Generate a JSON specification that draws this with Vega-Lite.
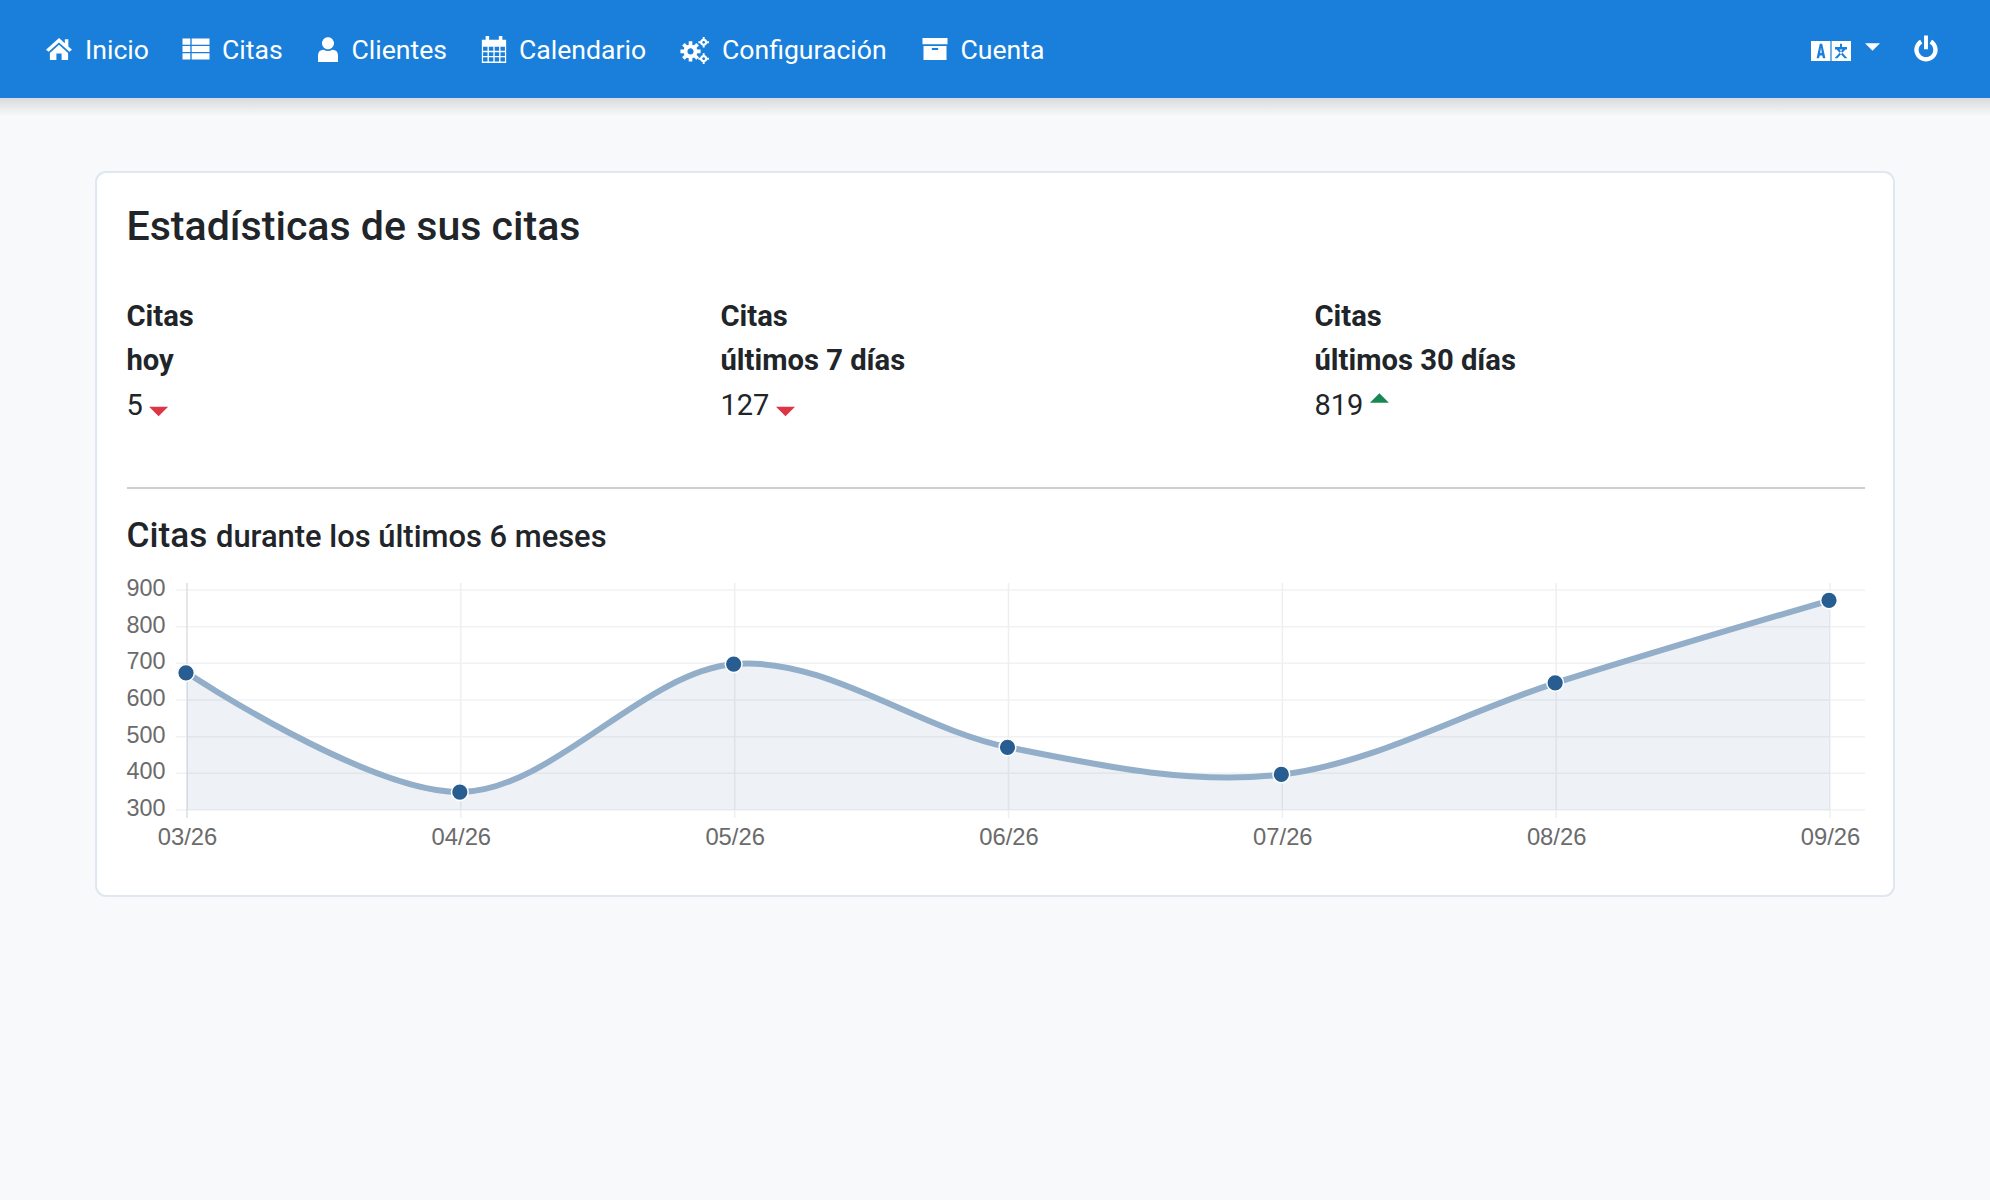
{
  "$schema": "https://vega.github.io/schema/vega-lite/v6.json",
  "width": 1990,
  "height": 1200,
  "padding": 0,
  "autosize": {"type": "fit", "contains": "padding"},
  "background": "#f8f9fb",
  "config": {
    "view": {"stroke": null},
    "text": {"font": "Roboto", "color": "#212529", "align": "left", "baseline": "alphabetic"},
    "axis": {"labelFont": "Liberation Sans", "labelFontSize": 23.4, "labelColor": "#6b6b6b", "title": null, "grid": false, "domain": false, "ticks": false}
  },
  "datasets": {
    "nav": [
      {"order": 0, "label": "Inicio"},
      {"order": 1, "label": "Citas"},
      {"order": 2, "label": "Clientes"},
      {"order": 3, "label": "Calendario"},
      {"order": 4, "label": "Configuración"},
      {"order": 5, "label": "Cuenta"}
    ],
    "navIcons": [
      {"order": 0, "icon": "home"},
      {"order": 1, "icon": "list"},
      {"order": 2, "icon": "user"},
      {"order": 3, "icon": "calendar"},
      {"order": 4, "icon": "cogs"},
      {"order": 5, "icon": "archive"},
      {"order": 6, "icon": "language"},
      {"order": 7, "icon": "caret"},
      {"order": 8, "icon": "power"}
    ],
    "kpis": [
      {"column": 0, "line": 0, "text": "Citas"},
      {"column": 0, "line": 1, "text": "hoy"},
      {"column": 1, "line": 0, "text": "Citas"},
      {"column": 1, "line": 1, "text": "últimos 7 días"},
      {"column": 2, "line": 0, "text": "Citas"},
      {"column": 2, "line": 1, "text": "últimos 30 días"}
    ],
    "kpiValues": [
      {"column": 0, "value": 5, "trend": "down"},
      {"column": 1, "value": 127, "trend": "down"},
      {"column": 2, "value": 819, "trend": "up"}
    ],
    "ticks": [
      {"tick": 300}, {"tick": 400}, {"tick": 500}, {"tick": 600}, {"tick": 700}, {"tick": 800}, {"tick": 900}
    ],
    "citas": [
      {"month": "03/26", "citas": 674},
      {"month": "04/26", "citas": 349},
      {"month": "05/26", "citas": 698},
      {"month": "06/26", "citas": 471},
      {"month": "07/26", "citas": 397},
      {"month": "08/26", "citas": 647},
      {"month": "09/26", "citas": 872}
    ]
  },
  "resolve": {"scale": {"x": "independent", "y": "independent", "shape": "independent", "size": "independent", "color": "independent"}},
  "layer": [
    {
      "data": {"values": [{"panel": "navShadow"}]},
      "mark": {"type": "rect", "color": {"gradient": "linear", "x1": 0, "y1": 0, "x2": 0, "y2": 1, "stops": [{"offset": 0, "color": "#d8dadd"}, {"offset": 1, "color": "#f8f9fb"}]}},
      "encoding": {
        "x": {"datum": 0, "scale": {"domain": [0, 1], "range": [0, 1990]}, "axis": null},
        "x2": {"datum": 1},
        "y": {"datum": 0, "scale": {"domain": [0, 1], "range": [98, 116]}, "axis": null},
        "y2": {"datum": 1}
      }
    },
    {
      "data": {"values": [{"panel": "nav"}]},
      "mark": {"type": "rect", "color": "#1a7fdb"},
      "encoding": {
        "x": {"datum": 0, "scale": {"domain": [0, 1], "range": [0, 1990]}, "axis": null},
        "x2": {"datum": 1},
        "y": {"datum": 0, "scale": {"domain": [0, 1], "range": [0, 98]}, "axis": null},
        "y2": {"datum": 1}
      }
    },
    {
      "data": {"values": [{"panel": "card"}]},
      "mark": {"type": "rect", "color": "#ffffff", "stroke": "#dfe7f0", "strokeWidth": 2, "cornerRadius": 10},
      "encoding": {
        "x": {"datum": 0, "scale": {"domain": [0, 1], "range": [96, 1894]}, "axis": null},
        "x2": {"datum": 1},
        "y": {"datum": 0, "scale": {"domain": [0, 1], "range": [172, 896]}, "axis": null},
        "y2": {"datum": 1}
      }
    },
    {
      "data": {"name": "nav"},
      "mark": {"type": "text", "color": "#ffffff", "fontSize": 26.6},
      "encoding": {
        "text": {"field": "label"},
        "x": {"field": "order", "type": "quantitative", "scale": {"domain": [0, 1, 2, 3, 4, 5], "range": [85, 222, 351.5, 519, 722, 960.5]}, "axis": null},
        "y": {"datum": 0, "scale": {"domain": [0, 1], "range": [58.5, 100]}, "axis": null}
      }
    },
    {
      "data": {"name": "navIcons"},
      "mark": {"type": "point", "filled": true, "opacity": 1, "color": "#ffffff", "strokeWidth": 0},
      "encoding": {
        "x": {"field": "order", "type": "quantitative", "scale": {"domain": [0, 1, 2, 3, 4, 5, 6, 7, 8], "range": [59, 196, 328, 494, 695, 935, 1831, 1872.5, 1926]}, "axis": null},
        "y": {"field": "order", "type": "quantitative", "scale": {"domain": [0, 1, 2, 3, 4, 5, 6, 7, 8], "range": [49, 49, 49.5, 49.5, 50, 49, 51, 47, 48.5]}, "axis": null},
        "size": {"field": "order", "type": "quantitative", "legend": null, "scale": {"domain": [0, 1, 2, 3, 4, 5, 6, 7, 8], "range": [676, 729, 625, 729, 784, 625, 1600, 225, 676]}},
        "shape": {"field": "icon", "type": "nominal", "legend": null, "scale": {"domain": ["home", "list", "user", "calendar", "cogs", "archive", "language", "caret", "power"], "range": [
          "M0,-0.85 L1,0.05 L0.8,0.22 L0,-0.5 L-0.8,0.22 L-1,0.05 Z M0.45,-0.75 H0.72 V-0.2 L0.45,-0.42 Z M0,-0.32 L0.7,0.3 V0.85 H0.2 V0.35 H-0.2 V0.85 H-0.7 V0.3 Z",
          "M-1,-0.78 H-0.42 V-0.32 H-1 Z M-0.32,-0.78 H1 V-0.32 H-0.32 Z M-1,-0.23 H-0.42 V0.23 H-1 Z M-0.32,-0.23 H1 V0.23 H-0.32 Z M-1,0.32 H-0.42 V0.78 H-1 Z M-0.32,0.32 H1 V0.78 H-0.32 Z",
          "M-0.48,-0.5 A0.48,0.48 0 1 1 0.48,-0.5 A0.48,0.48 0 1 1 -0.48,-0.5 Z M-0.8,1 V0.5 Q-0.8,0.02 -0.35,0.02 Q0,0.22 0.35,0.02 Q0.8,0.02 0.8,0.5 V1 Z",
          "M-0.9,-0.72 H0.9 V1 H-0.9 Z M-0.62,-1 H-0.36 V-0.55 H-0.62 Z M0.36,-1 H0.62 V-0.55 H0.36 Z M-0.81,-0.2 V0.1 H-0.48 V-0.2 Z M-0.38,-0.2 V0.1 H-0.05 V-0.2 Z M0.05,-0.2 V0.1 H0.38 V-0.2 Z M0.48,-0.2 V0.1 H0.81 V-0.2 Z M-0.81,0.2 V0.48 H-0.48 V0.2 Z M-0.38,0.2 V0.48 H-0.05 V0.2 Z M0.05,0.2 V0.48 H0.38 V0.2 Z M0.48,0.2 V0.48 H0.81 V0.2 Z M-0.81,0.58 V0.88 H-0.48 V0.58 Z M-0.38,0.58 V0.88 H-0.05 V0.58 Z M0.05,0.58 V0.88 H0.38 V0.58 Z M0.48,0.58 V0.88 H0.81 V0.58 Z",
          "M-0.82,0.1 A0.5,0.5 0 1 1 0.18,0.1 A0.5,0.5 0 1 1 -0.82,0.1 Z M-0.54,0.1 A0.22,0.22 0 1 0 -0.1,0.1 A0.22,0.22 0 1 0 -0.54,0.1 Z M0.1,-0.03 L0.4,-0.03 L0.4,0.23 L0.1,0.23 Z M-1.04,-0.03 L-0.74,-0.03 L-0.74,0.23 L-1.04,0.23 Z M-0.45,0.52 L-0.19,0.52 L-0.19,0.82 L-0.45,0.82 Z M-0.45,-0.62 L-0.19,-0.62 L-0.19,-0.32 L-0.45,-0.32 Z M0.069,0.305 L0.281,0.517 L0.097,0.701 L-0.115,0.489 Z M-0.525,0.489 L-0.737,0.701 L-0.921,0.517 L-0.709,0.305 Z M-0.709,-0.105 L-0.921,-0.317 L-0.737,-0.501 L-0.525,-0.289 Z M-0.115,-0.289 L0.097,-0.501 L0.281,-0.317 L0.069,-0.105 Z M0.36,-0.55 A0.26,0.26 0 1 1 0.88,-0.55 A0.26,0.26 0 1 1 0.36,-0.55 Z M0.52,-0.55 A0.1,0.1 0 1 0 0.72,-0.55 A0.1,0.1 0 1 0 0.52,-0.55 Z M0.84,-0.62 H1 V-0.48 H0.84 Z M0.24,-0.62 H0.4 V-0.48 H0.24 Z M0.55,-0.93 H0.69 V-0.77 H0.55 Z M0.55,-0.33 H0.69 V-0.17 H0.55 Z M0.36,0.62 A0.26,0.26 0 1 1 0.88,0.62 A0.26,0.26 0 1 1 0.36,0.62 Z M0.52,0.62 A0.1,0.1 0 1 0 0.72,0.62 A0.1,0.1 0 1 0 0.52,0.62 Z M0.84,0.55 H1 V0.69 H0.84 Z M0.24,0.55 H0.4 V0.69 H0.24 Z M0.55,0.24 H0.69 V0.4 H0.55 Z M0.55,0.84 H0.69 V1 H0.55 Z",
          "M-1,-0.88 H1 V-0.38 H-1 Z M-0.92,-0.25 H0.92 V0.88 H-0.92 Z M-0.25,-0.08 V0.08 H0.25 V-0.08 Z",
          "M-1,-0.5 H-0.03 V0.5 H-1 Z M-0.72,0.36 L-0.6,0.36 L-0.56,0.22 L-0.44,0.22 L-0.4,0.36 L-0.28,0.36 L-0.44,-0.36 L-0.56,-0.36 Z M-0.5,-0.18 L-0.46,0.1 L-0.54,0.1 Z M0.03,-0.5 H1 V0.5 H0.03 Z M0.2,-0.2 V-0.08 H0.8 V-0.2 Z M0.45,-0.36 V-0.2 H0.55 V-0.36 Z M0.28,-0.08 L0.68,0.36 H0.82 L0.42,-0.08 Z M0.58,-0.08 L0.18,0.36 H0.32 L0.72,-0.08 Z",
          "M-1,-0.5 H1 L0,0.5 Z",
          "M0.45,-0.68 A0.9,0.9 0 1 1 -0.45,-0.68 L-0.28,-0.385 A0.56,0.56 0 1 0 0.28,-0.385 Z M-0.15,-1 H0.15 V0.05 H-0.15 Z"
        ]}}
      }
    },
    {
      "data": {"values": [{"heading": "Estadísticas de sus citas"}]},
      "mark": {"type": "text", "fontSize": 41.1, "fontWeight": 500},
      "encoding": {
        "text": {"field": "heading"},
        "x": {"datum": 0, "scale": {"domain": [0, 1], "range": [126.5, 600]}, "axis": null},
        "y": {"datum": 0, "scale": {"domain": [0, 1], "range": [240, 300]}, "axis": null}
      }
    },
    {
      "data": {"name": "kpis"},
      "mark": {"type": "text", "fontSize": 29.2, "fontWeight": 700},
      "encoding": {
        "text": {"field": "text"},
        "x": {"field": "column", "type": "quantitative", "scale": {"domain": [0, 2], "range": [126.5, 1314.5]}, "axis": null},
        "y": {"field": "line", "type": "quantitative", "scale": {"domain": [0, 1], "range": [325.5, 369.5]}, "axis": null}
      }
    },
    {
      "data": {"name": "kpiValues"},
      "mark": {"type": "text", "fontSize": 29},
      "encoding": {
        "text": {"field": "value"},
        "x": {"field": "column", "type": "quantitative", "scale": {"domain": [0, 2], "range": [126.5, 1314.5]}, "axis": null},
        "y": {"datum": 0, "scale": {"domain": [0, 1], "range": [415, 500]}, "axis": null}
      }
    },
    {
      "data": {"name": "kpiValues"},
      "mark": {"type": "point", "filled": true, "opacity": 1, "strokeWidth": 0, "size": 361},
      "encoding": {
        "x": {"field": "column", "type": "quantitative", "scale": {"domain": [0, 1, 2], "range": [158.6, 785.5, 1379.4]}, "axis": null},
        "y": {"field": "trend", "type": "nominal", "scale": {"domain": ["up", "down"], "range": [398, 411.5], "padding": 0}, "axis": null},
        "color": {"field": "trend", "type": "nominal", "legend": null, "scale": {"domain": ["up", "down"], "range": ["#198754", "#dc3545"]}},
        "shape": {"field": "trend", "type": "nominal", "legend": null, "scale": {"domain": ["up", "down"], "range": ["M0,-0.5 L1,0.5 H-1 Z", "M-1,-0.5 H1 L0,0.5 Z"]}}
      }
    },
    {
      "data": {"values": [{"part": "divider"}]},
      "mark": {"type": "rule", "color": "#cdcfd1", "strokeWidth": 2},
      "encoding": {
        "x": {"datum": 0, "scale": {"domain": [0, 1], "range": [127, 1865]}, "axis": null},
        "x2": {"datum": 1},
        "y": {"datum": 0, "scale": {"domain": [0, 1], "range": [488, 500]}, "axis": null}
      }
    },
    {
      "data": {"values": [{"heading": "Citas"}]},
      "mark": {"type": "text", "fontSize": 35.2, "fontWeight": 500},
      "encoding": {
        "text": {"field": "heading"},
        "x": {"datum": 0, "scale": {"domain": [0, 1], "range": [126.5, 300]}, "axis": null},
        "y": {"datum": 0, "scale": {"domain": [0, 1], "range": [547, 600]}, "axis": null}
      }
    },
    {
      "data": {"values": [{"heading": "durante los últimos 6 meses"}]},
      "mark": {"type": "text", "fontSize": 30.9, "fontWeight": 500},
      "encoding": {
        "text": {"field": "heading"},
        "x": {"datum": 0, "scale": {"domain": [0, 1], "range": [216, 700]}, "axis": null},
        "y": {"datum": 0, "scale": {"domain": [0, 1], "range": [547, 600]}, "axis": null}
      }
    },
    {
      "data": {"name": "ticks"},
      "mark": {"type": "rule", "color": "#f1f2f3", "strokeWidth": 1.5},
      "encoding": {
        "x": {"datum": 0, "scale": {"domain": [0, 1], "range": [176, 1865]}, "axis": null},
        "x2": {"datum": 1},
        "y": {"field": "tick", "type": "quantitative", "scale": {"domain": [300, 900], "range": [810, 590]}, "axis": null}
      }
    },
    {
      "data": {"name": "citas"},
      "encoding": {
        "x": {"field": "month", "type": "nominal", "sort": null, "scale": {"type": "point", "padding": 0, "range": [187, 1830]}, "axis": {"offset": -390, "labelAngle": 0, "labelPadding": 15, "labelFontSize": 23.8, "zindex": 1}},
        "y": {"field": "citas", "type": "quantitative", "scale": {"domain": [300, 900], "range": [810, 590]}, "axis": {"offset": -187, "values": [300, 400, 500, 600, 700, 800, 900], "labelPadding": 22, "labelOffset": -1.5, "zindex": 1}}
      },
      "layer": [
        {
          "mark": {"type": "rule", "strokeWidth": 1.5},
          "encoding": {
            "y": {"datum": 278, "axis": {"offset": -187, "values": [300, 400, 500, 600, 700, 800, 900], "labelPadding": 22, "labelOffset": -1.5, "zindex": 1}},
            "y2": {"datum": 919},
            "color": {"condition": {"test": "datum.month === '03/26'", "value": "#dcdee2"}, "value": "#eeeff1"}
          }
        },
        {
          "mark": {"type": "area", "interpolate": "cardinal", "tension": 0, "color": "#275d91", "opacity": 0.08},
          "encoding": {"y2": {"datum": 300}}
        },
        {
          "mark": {"type": "line", "interpolate": "cardinal", "tension": 0, "color": "#93aec9", "strokeWidth": 6}
        },
        {
          "mark": {"type": "point", "filled": true, "opacity": 1, "color": "#275d91", "stroke": "#ffffff", "strokeWidth": 1.5, "size": 280, "xOffset": -1}
        }
      ]
    }
  ]
}
